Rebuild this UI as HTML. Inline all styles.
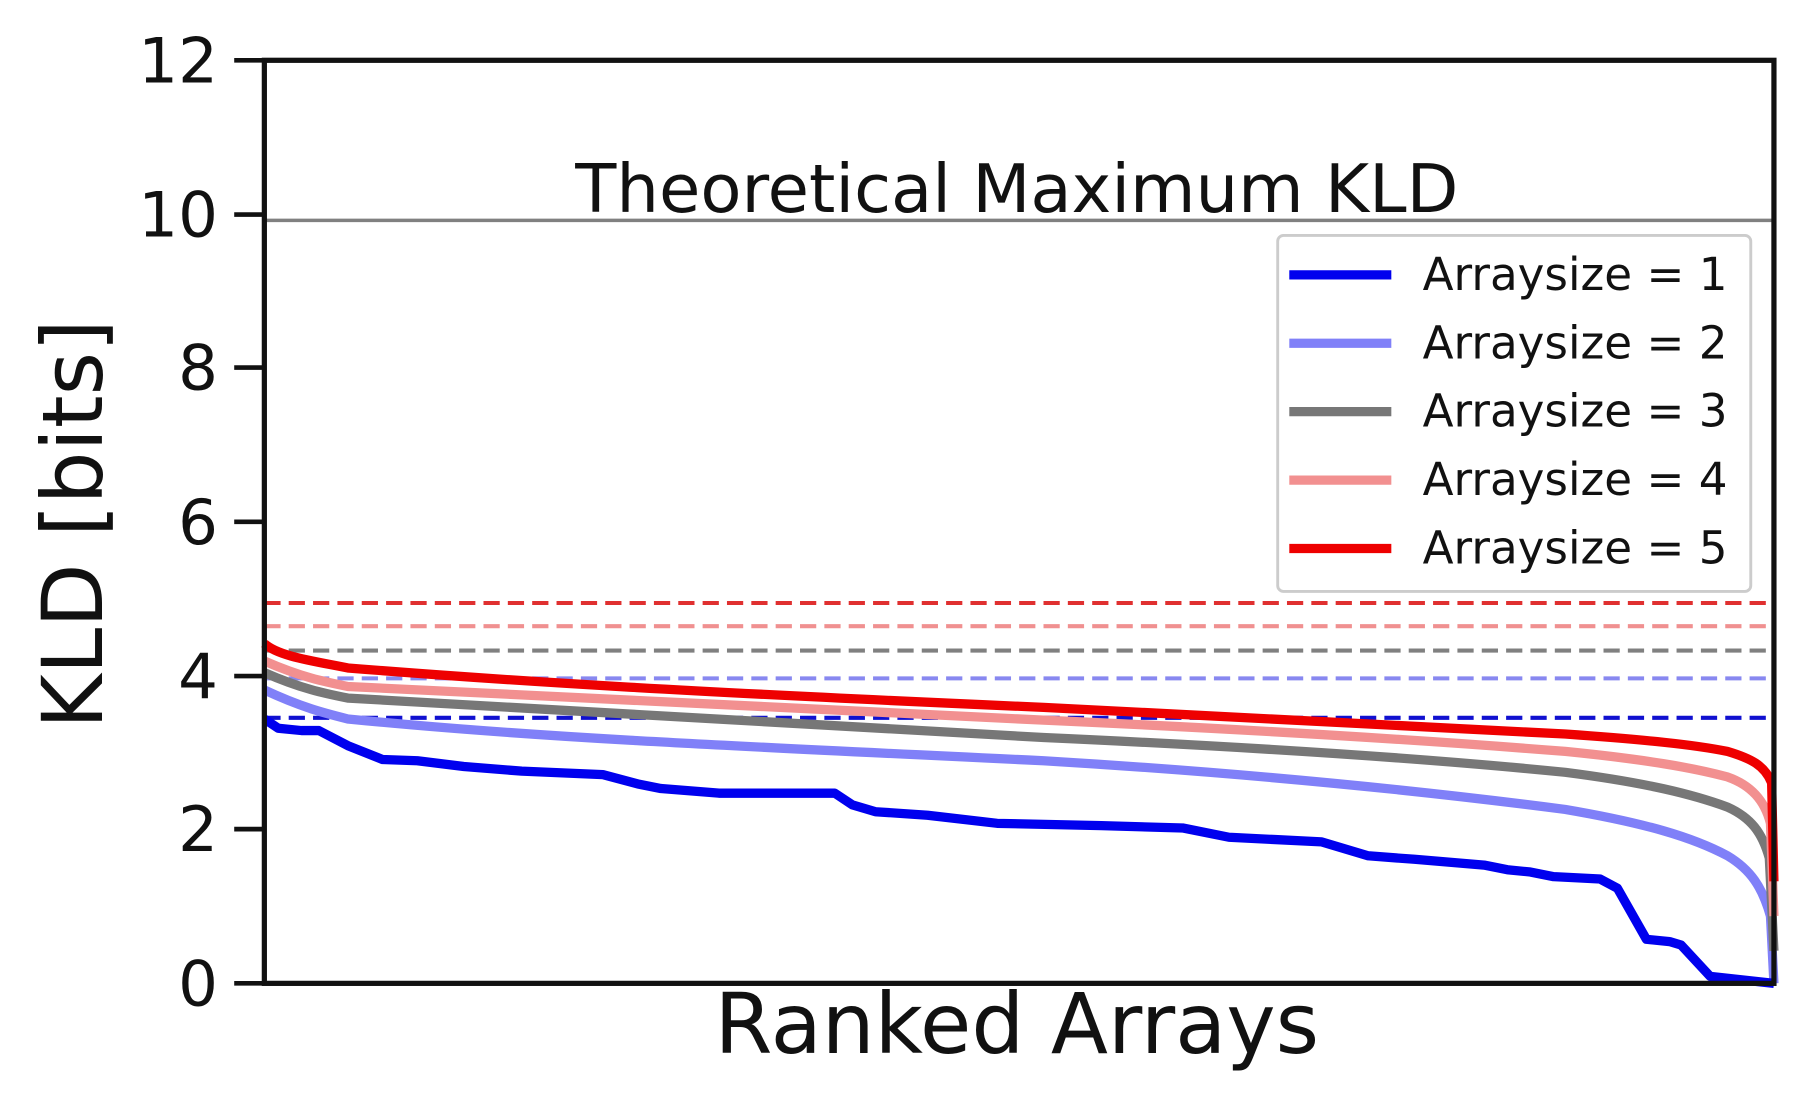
<!DOCTYPE html>
<html><head><style>html,body{margin:0;padding:0;background:#fff}svg{display:block}</style></head>
<body>
<svg width="1818" height="1097" viewBox="0 0 1568 946" preserveAspectRatio="none" xmlns="http://www.w3.org/2000/svg" font-family="'DejaVu Sans','Liberation Sans',sans-serif">
<rect width="1568" height="946" fill="#fff"/>
<line x1="228" y1="190" x2="1530" y2="190" stroke="#808080" stroke-width="3"/>
<text x="877" y="183" font-size="58" text-anchor="middle" fill="#111">Theoretical Maximum KLD</text>
<g stroke-width="3.5" stroke-dasharray="14,7" fill="none">
<line x1="228" y1="520" x2="1530" y2="520" stroke="#e03030"/>
<line x1="228" y1="540" x2="1530" y2="540" stroke="#f09090"/>
<line x1="228" y1="561" x2="1530" y2="561" stroke="#808080"/>
<line x1="228" y1="585" x2="1530" y2="585" stroke="#8888f0"/>
<line x1="228" y1="619" x2="1530" y2="619" stroke="#1010d0"/>
</g>
<g fill="none" stroke-width="8" stroke-linejoin="round">
<path stroke="#8080f8" d="M228,595 C260,610 280,615 300,620 C450,635 600,642 900,656 C1100,668 1250,685 1350,698 C1420,710 1460,722 1490,738 C1510,750 1520,765 1527,790 L1530,848"/>
<path stroke="#777" d="M228,580 C260,594 280,598 300,602 C450,612 600,620 900,636 C1100,645 1250,656 1350,666 C1420,675 1460,685 1490,696 C1510,705 1520,718 1526,740 L1530,820"/>
<path stroke="#f29090" d="M228,570 C260,584 280,588 300,592 C450,600 600,608 900,621 C1100,630 1250,640 1350,648 C1420,655 1460,662 1490,670 C1510,677 1522,690 1527,710 L1530,790"/>
<path stroke="#ee0000" d="M228,555 C240,566 270,570 300,576 C450,588 600,597 900,610 C1100,620 1250,628 1350,633 C1420,638 1460,642 1490,648 C1510,654 1522,660 1528,675 L1530,760"/>
<path stroke="#0000ee" d="M228,620 L240,628 L260,630 L275,630 L300,643 L330,655 L360,656 L400,661 L450,665 L520,668 L550,676 L570,680 L620,684 L720,684 L735,694 L755,700 L800,703 L860,710 L950,712 L1020,714 L1060,722 L1100,724 L1140,726 L1180,738 L1220,741 L1280,746 L1300,750 L1320,752 L1340,756 L1380,758 L1395,766 L1420,810 L1440,812 L1450,815 L1475,842 L1530,848"/>
</g>
<rect x="228" y="52" width="1302" height="796" fill="none" stroke="#111" stroke-width="4.5"/>
<g stroke="#111" stroke-width="4">
<line x1="202" y1="52" x2="228" y2="52"/><line x1="202" y1="185" x2="228" y2="185"/><line x1="202" y1="317" x2="228" y2="317"/><line x1="202" y1="450" x2="228" y2="450"/><line x1="202" y1="583" x2="228" y2="583"/><line x1="202" y1="715" x2="228" y2="715"/><line x1="202" y1="848" x2="228" y2="848"/>
</g>
<g font-size="54" text-anchor="end" fill="#111">
<text x="188" y="71">12</text><text x="188" y="204">10</text><text x="188" y="336">8</text><text x="188" y="469">6</text><text x="188" y="602">4</text><text x="188" y="734">2</text><text x="188" y="867">0</text>
</g>
<text transform="translate(88,452) rotate(-90)" font-size="72" text-anchor="middle" fill="#111">KLD [bits]</text>
<text x="877" y="908" font-size="72" text-anchor="middle" fill="#111">Ranked Arrays</text>
<rect x="1102" y="203" width="408" height="307" rx="5" fill="#fff" fill-opacity="0.85" stroke="#ccc" stroke-width="2.5"/>
<g stroke-width="8">
<line x1="1112" y1="237" x2="1200" y2="237" stroke="#0000ee"/>
<line x1="1112" y1="296" x2="1200" y2="296" stroke="#8080f8"/>
<line x1="1112" y1="355" x2="1200" y2="355" stroke="#777"/>
<line x1="1112" y1="414" x2="1200" y2="414" stroke="#f29090"/>
<line x1="1112" y1="473" x2="1200" y2="473" stroke="#ee0000"/>
</g>
<g font-size="39" fill="#111">
<text x="1227" y="250">Arraysize = 1</text>
<text x="1227" y="309">Arraysize = 2</text>
<text x="1227" y="368">Arraysize = 3</text>
<text x="1227" y="427">Arraysize = 4</text>
<text x="1227" y="486">Arraysize = 5</text>
</g>
</svg>
</body></html>
